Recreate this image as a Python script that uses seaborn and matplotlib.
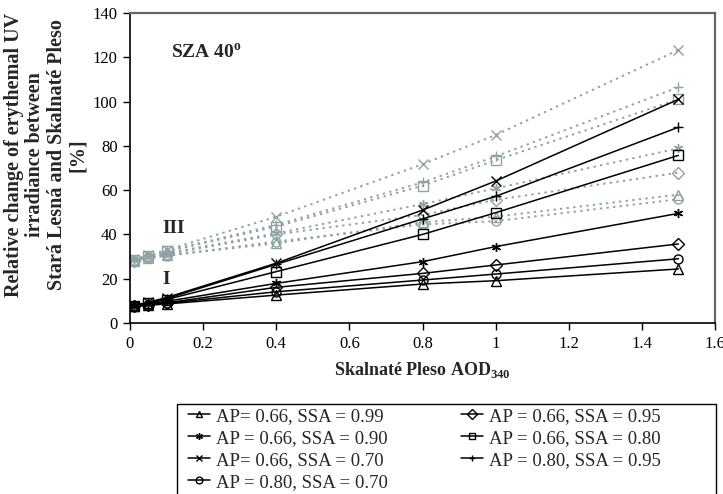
import numpy as np
import pandas as pd
import matplotlib
matplotlib.use("Agg")
import matplotlib.pyplot as plt
from matplotlib.patches import Rectangle
import seaborn as sns

# Aerosol optical depth at Skalnaté Pleso (340 nm)
aod = [0.01, 0.05, 0.1, 0.4, 0.8, 1.0, 1.5]

labels = [
    "AP= 0.66, SSA = 0.99",
    "AP = 0.66, SSA = 0.95",
    "AP = 0.66, SSA = 0.90",
    "AP = 0.66, SSA = 0.80",
    "AP= 0.66, SSA = 0.70",
    "AP = 0.80, SSA = 0.95",
    "AP = 0.80, SSA = 0.70",
]
markers = ["^", "D", (6, 2, 0), "s", "x", "+", "o"]

# Case I – relative change [%]
case_i_ssa099_ap066 = [7.5, 8.0, 8.6, 12.6, 17.6, 19.1, 24.4]
case_i_ssa095_ap066 = [7.6, 8.3, 9.1, 16.1, 22.4, 26.2, 35.7]
case_i_ssa090_ap066 = [7.7, 8.6, 9.8, 17.9, 27.7, 34.5, 49.5]
case_i_ssa080_ap066 = [7.8, 9.0, 10.6, 23.2, 40.0, 49.8, 75.7]
case_i_ssa070_ap066 = [7.9, 9.4, 11.5, 27.0, 51.0, 64.1, 101.0]
case_i_ssa095_ap080 = [7.8, 9.2, 11.0, 26.5, 47.0, 57.2, 88.4]
case_i_ssa070_ap080 = [7.6, 8.2, 8.9, 14.1, 19.4, 22.1, 29.0]

# Case III – relative change [%]
case_iii_ssa099_ap066 = [28.0, 29.5, 30.5, 36.0, 45.5, 48.0, 58.0]
case_iii_ssa095_ap066 = [28.2, 29.8, 31.0, 40.0, 48.8, 55.6, 67.9]
case_iii_ssa090_ap066 = [28.3, 30.0, 31.5, 40.5, 53.7, 60.8, 78.9]
case_iii_ssa080_ap066 = [28.5, 30.3, 32.3, 43.5, 62.0, 73.5, 101.0]
case_iii_ssa070_ap066 = [28.7, 30.5, 33.0, 48.0, 71.7, 84.9, 123.3]
case_iii_ssa095_ap080 = [28.5, 30.3, 32.5, 44.3, 63.5, 75.2, 106.5]
case_iii_ssa070_ap080 = [28.0, 29.4, 30.3, 36.8, 44.5, 46.0, 55.9]

case_i = [case_i_ssa099_ap066, case_i_ssa095_ap066, case_i_ssa090_ap066,
          case_i_ssa080_ap066, case_i_ssa070_ap066, case_i_ssa095_ap080,
          case_i_ssa070_ap080]
case_iii = [case_iii_ssa099_ap066, case_iii_ssa095_ap066, case_iii_ssa090_ap066,
            case_iii_ssa080_ap066, case_iii_ssa070_ap066, case_iii_ssa095_ap080,
            case_iii_ssa070_ap080]

sns.set_style("ticks")
plt.rcParams["font.family"] = ["Liberation Serif", "DejaVu Serif"]
plt.rcParams["mathtext.fontset"] = "custom"
plt.rcParams["mathtext.rm"] = "Liberation Serif"
plt.rcParams["mathtext.bf"] = "Liberation Serif:bold"

fig = plt.figure(figsize=(7.23, 4.94), dpi=100)
ax = fig.add_axes([130 / 723, 1 - 323 / 494, 585 / 723, 310 / 494])

gray = "#8fa3a3"
ms = 6.5

# Case III: gray dotted lines
for vals, mk in zip(case_iii, markers):
    df = pd.DataFrame({"aod": aod, "change": vals})
    sns.lineplot(data=df, x="aod", y="change", ax=ax, color=gray,
                 linestyle=(0, (1.2, 2.2)), linewidth=1.4, marker=mk,
                 markersize=ms, markerfacecolor="none", markeredgecolor=gray,
                 markeredgewidth=1.0, legend=False)

# Case I: black solid lines
handles = []
for vals, mk, lab in zip(case_i, markers, labels):
    df = pd.DataFrame({"aod": aod, "change": vals})
    sns.lineplot(data=df, x="aod", y="change", ax=ax, color="black",
                 linewidth=1.1, marker=mk, markersize=ms,
                 markerfacecolor="none", markeredgecolor="black",
                 markeredgewidth=1.0, label=lab)
    handles.append(ax.lines[-1])

if ax.get_legend() is not None:
    ax.get_legend().remove()

ax.set_xlim(0, 1.6)
ax.set_ylim(0, 140)
ax.set_xticks(np.arange(0, 1.61, 0.2))
ax.set_xticklabels(["0", "0.2", "0.4", "0.6", "0.8", "1", "1.2", "1.4", "1.6"])
ax.set_yticks(np.arange(0, 141, 20))
ax.tick_params(axis="both", direction="out", length=5, width=1, labelsize=12,
               colors="black")
ax.tick_params(axis="x", pad=4)
ax.tick_params(axis="y", pad=4)

for side in ["left", "bottom"]:
    ax.spines[side].set_color("black")
    ax.spines[side].set_linewidth(1.2)
for side in ["top", "right"]:
    ax.spines[side].set_visible(True)
    ax.spines[side].set_color("#666666")
    ax.spines[side].set_linewidth(1.6)

ax.set_xlabel(r"Skalnaté Pleso AOD$_{\mathbf{340}}$", fontsize=13,
              fontweight="bold", labelpad=6)
ax.set_ylabel("Relative change of erythemal UV\nirradiance between\n"
              "Stará Lesná and Skalnaté Pleso\n[%]", fontsize=14.5,
              fontweight="bold", linespacing=1.1, multialignment="center")
ax.yaxis.label.set_verticalalignment("center")
ax.yaxis.set_label_coords((46 - 130) / 585, (323 - 155) / 310)

ax.text(0.111, 122, r"SZA 40$^{\mathbf{o}}$", fontsize=14, fontweight="bold",
        ha="left", va="center")
ax.text(0.088, 42.5, "III", fontsize=14, fontweight="bold", ha="left",
        va="center")
ax.text(0.088, 19.5, "I", fontsize=14, fontweight="bold", ha="left",
        va="center")

# Legend (entries ordered row by row across two columns)
order = [0, 2, 4, 6, 1, 3, 5]
fig.legend([handles[i] for i in order], [labels[i] for i in order],
           ncol=2, loc="upper left",
           bbox_to_anchor=(180 / 723, 1 - 400 / 494),
           frameon=False, fontsize=13.5, handlelength=1.2,
           handletextpad=0.3, columnspacing=3.9, labelspacing=0.26,
           borderaxespad=0, markerscale=0.75)
fig.add_artist(Rectangle((177 / 723, -0.05), (716 - 177) / 723,
                         (1 - 404 / 494) + 0.05, transform=fig.transFigure,
                         fill=False, edgecolor="black", linewidth=1.0))

fig.savefig("out.png", dpi=100, facecolor="white")
